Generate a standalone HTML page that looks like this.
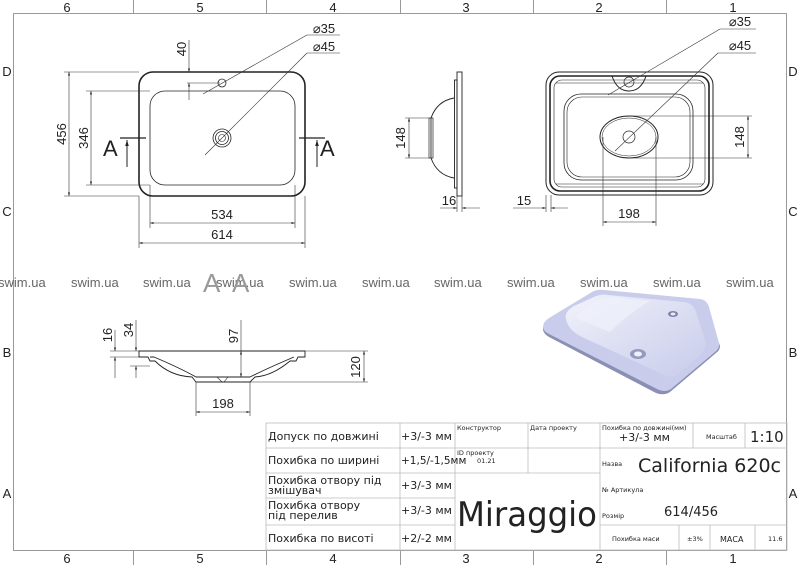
<!DOCTYPE html>
<html><head><meta charset="utf-8"><style>
html,body{margin:0;padding:0;background:#fff}
svg{display:block}
text{font-family:"Liberation Sans",sans-serif;fill:#222}
.t{font-family:"DejaVu Sans","Liberation Sans",sans-serif;fill:#222}
</style></head><body>
<svg width="800" height="565" viewBox="0 0 800 565" xmlns="http://www.w3.org/2000/svg">
<defs>
<marker id="a" viewBox="0 0 10 10" refX="10" refY="5" markerWidth="6" markerHeight="6" orient="auto-start-reverse"><path d="M0,2 L10,5 L0,8z" fill="#222"/></marker>
<linearGradient id="bw" x1="0" y1="0" x2="1" y2="1">
<stop offset="0" stop-color="#f2f3fb"/><stop offset="0.5" stop-color="#dcdef2"/><stop offset="1" stop-color="#c9cceb"/>
</linearGradient>
</defs>
<!-- frame -->
<rect x="13.5" y="13.5" width="773" height="537" fill="none" stroke="#999" stroke-width="1"/>
<g stroke="#999" stroke-width="1">
<line x1="133.5" y1="0" x2="133.5" y2="13"/><line x1="266.5" y1="0" x2="266.5" y2="13"/><line x1="400.5" y1="0" x2="400.5" y2="13"/><line x1="533.5" y1="0" x2="533.5" y2="13"/><line x1="666.5" y1="0" x2="666.5" y2="13"/>
<line x1="133.5" y1="550" x2="133.5" y2="565"/><line x1="266.5" y1="550" x2="266.5" y2="565"/><line x1="400.5" y1="550" x2="400.5" y2="565"/><line x1="533.5" y1="550" x2="533.5" y2="565"/><line x1="666.5" y1="550" x2="666.5" y2="565"/>
</g>
<g font-size="13" text-anchor="middle">
<text x="67" y="12">6</text><text x="200" y="12">5</text><text x="333" y="12">4</text><text x="466" y="12">3</text><text x="599" y="12">2</text><text x="733" y="12">1</text>
<text x="67" y="563">6</text><text x="200" y="563">5</text><text x="333" y="563">4</text><text x="466" y="563">3</text><text x="599" y="563">2</text><text x="733" y="563">1</text>
<text x="7" y="76">D</text><text x="7" y="216">C</text><text x="7" y="357">B</text><text x="7" y="498">A</text>
<text x="793" y="76">D</text><text x="793" y="216">C</text><text x="793" y="357">B</text><text x="793" y="498">A</text>
</g>

<!-- TOP VIEW -->
<g fill="none" stroke="#222">
<rect x="139" y="72" width="166" height="124" rx="14" stroke-width="1.6"/>
<rect x="150" y="91" width="145" height="94" rx="15" stroke-width="0.8"/>
<circle cx="222" cy="83" r="4" stroke-width="0.8"/>
<circle cx="222" cy="138" r="9" stroke-width="0.8"/>
<circle cx="222" cy="138" r="6.5" stroke-width="0.8"/>
<circle cx="222" cy="138" r="3.5" stroke-width="0.6"/>
</g>
<g stroke="#333" stroke-width="0.6" fill="none">
<line x1="64" y1="72" x2="139" y2="72"/><line x1="64" y1="196" x2="139" y2="196"/>
<line x1="69" y1="72" x2="69" y2="196" marker-start="url(#a)" marker-end="url(#a)"/>
<line x1="86" y1="91" x2="150" y2="91"/><line x1="86" y1="185" x2="150" y2="185"/>
<line x1="91" y1="91" x2="91" y2="185" marker-start="url(#a)" marker-end="url(#a)"/>
<line x1="150" y1="185" x2="150" y2="228"/><line x1="295" y1="185" x2="295" y2="228"/>
<line x1="150" y1="223" x2="295" y2="223" marker-start="url(#a)" marker-end="url(#a)"/>
<line x1="139" y1="196" x2="139" y2="248"/><line x1="305" y1="196" x2="305" y2="248"/>
<line x1="139" y1="243" x2="305" y2="243" marker-start="url(#a)" marker-end="url(#a)"/>
<line x1="189" y1="40" x2="189" y2="72" marker-end="url(#a)"/>
<line x1="189" y1="100" x2="189" y2="83" marker-end="url(#a)"/>
<line x1="187" y1="83" x2="220" y2="83"/>
<line x1="307" y1="35" x2="340" y2="35"/><line x1="307" y1="35" x2="203" y2="94"/>
<line x1="307" y1="53" x2="340" y2="53"/><line x1="307" y1="53" x2="205" y2="155"/>
</g>
<g stroke="#222" stroke-width="1">
<line x1="120" y1="138" x2="146" y2="138" stroke-width="1.3"/>
<line x1="127" y1="167" x2="127" y2="140" marker-end="url(#a)"/>
<line x1="299" y1="138" x2="325" y2="138" stroke-width="1.3"/>
<line x1="317" y1="167" x2="317" y2="140" marker-end="url(#a)"/>
</g>
<g font-size="13" text-anchor="middle">
<text transform="translate(66,134) rotate(-90)">456</text>
<text transform="translate(88,138) rotate(-90)">346</text>
<text transform="translate(186,49) rotate(-90)">40</text>
<text x="222" y="219">534</text><text x="222" y="239">614</text>
<text x="324" y="33">⌀35</text><text x="324" y="51">⌀45</text>
</g>
<text x="103" y="156" font-size="22">A</text>
<text x="320" y="156" font-size="22">A</text>

<!-- SIDE VIEW -->
<g fill="none" stroke="#222" stroke-width="0.9">
<rect x="457" y="72" width="5" height="124"/>
<rect x="454.5" y="80" width="2.5" height="108"/>
<path d="M454 98 Q437 101 431 118 L431 158 Q437 175 454 178"/>
<rect x="429" y="118" width="4" height="40" stroke-width="0.7"/>
</g>
<g stroke="#333" stroke-width="0.6" fill="none">
<line x1="405" y1="118" x2="431" y2="118"/><line x1="405" y1="158" x2="431" y2="158"/>
<line x1="409" y1="118" x2="409" y2="158" marker-start="url(#a)" marker-end="url(#a)"/>
<line x1="457" y1="196" x2="457" y2="212"/><line x1="462" y1="196" x2="462" y2="212"/>
<line x1="440" y1="208" x2="457" y2="208" marker-end="url(#a)"/><line x1="480" y1="208" x2="462" y2="208" marker-end="url(#a)"/>
</g>
<text transform="translate(405,138) rotate(-90)" font-size="13" text-anchor="middle">148</text>
<text x="449" y="205" font-size="13" text-anchor="middle">16</text>

<!-- FRONT RIGHT VIEW -->
<g fill="none" stroke="#222">
<rect x="546" y="72" width="167" height="123" rx="13" stroke-width="1"/>
<rect x="550" y="76" width="159" height="115" rx="10" stroke-width="1.6"/>
<rect x="554" y="80" width="151" height="107" rx="8" stroke-width="0.6"/>
<line x1="556" y1="83" x2="703" y2="83" stroke-width="0.6"/>
<line x1="556" y1="184" x2="703" y2="184" stroke-width="0.6"/>
<rect x="564" y="94" width="129" height="86" rx="17" stroke-width="0.8"/>
<rect x="567" y="97" width="123" height="80" rx="15" stroke-width="0.6"/>
<ellipse cx="629" cy="137" rx="29" ry="21" stroke-width="1"/>
<ellipse cx="629" cy="137" rx="27" ry="19" stroke-width="0.5"/>
<circle cx="629" cy="137" r="6" stroke-width="0.7"/>
<path d="M612 76 Q617 91 629 91 Q641 91 646 76" stroke-width="1"/>
<circle cx="629" cy="82" r="5" stroke-width="0.7"/>
</g>
<g stroke="#333" stroke-width="0.6" fill="none">
<line x1="629" y1="116" x2="752" y2="116"/><line x1="629" y1="158" x2="752" y2="158"/>
<line x1="748" y1="116" x2="748" y2="158" marker-start="url(#a)" marker-end="url(#a)"/>
<line x1="603" y1="137" x2="603" y2="226"/><line x1="656" y1="137" x2="656" y2="226"/>
<line x1="603" y1="222" x2="656" y2="222" marker-start="url(#a)" marker-end="url(#a)"/>
<line x1="546" y1="195" x2="546" y2="212"/><line x1="551" y1="195" x2="551" y2="212"/>
<line x1="513" y1="208" x2="546" y2="208" marker-end="url(#a)"/><line x1="568" y1="208" x2="551" y2="208" marker-end="url(#a)"/>
<line x1="720" y1="29" x2="756" y2="29"/><line x1="720" y1="29" x2="608" y2="95"/>
<line x1="718" y1="53" x2="756" y2="53"/><line x1="718" y1="53" x2="615" y2="151"/>
</g>
<g font-size="13" text-anchor="middle">
<text transform="translate(744,137) rotate(-90)">148</text>
<text x="629" y="218">198</text><text x="524" y="205">15</text>
<text x="740" y="26">⌀35</text><text x="740" y="50">⌀45</text>
</g>

<!-- watermark -->
<g font-size="13">
<text x="-2" y="287" style="fill:#666">swim.ua</text><text x="71" y="287" style="fill:#666">swim.ua</text><text x="143" y="287" style="fill:#666">swim.ua</text><text x="216" y="287" style="fill:#666">swim.ua</text><text x="289" y="287" style="fill:#666">swim.ua</text><text x="362" y="287" style="fill:#666">swim.ua</text><text x="434" y="287" style="fill:#666">swim.ua</text><text x="507" y="287" style="fill:#666">swim.ua</text><text x="580" y="287" style="fill:#666">swim.ua</text><text x="653" y="287" style="fill:#666">swim.ua</text><text x="726" y="287" style="fill:#666">swim.ua</text>
</g>
<text x="203" y="292" font-size="26" style="fill:#999">A</text><text x="232" y="292" font-size="26" style="fill:#999">A</text>

<!-- SECTION -->
<g fill="none" stroke="#222" stroke-width="0.9">
<path d="M139 351 L305 351 L305 357 L298 357 L296 361 L290 361 Q272 376 255 377 L250 382 L196 382 L192 377 Q170 376 155 361 L150 361 L148 357 L139 357 Z"/>
<path d="M150 357 L154 357 Q180 368 196 377 L250 377 Q268 368 294 357"/>
<path d="M217 377 L222 382 M228 377 L224 382" stroke-width="0.6"/>
</g>
<g stroke="#333" stroke-width="0.6" fill="none">
<line x1="110" y1="351" x2="139" y2="351"/><line x1="110" y1="357" x2="139" y2="357"/><line x1="130" y1="366" x2="150" y2="366"/>
<line x1="115" y1="330" x2="115" y2="351" marker-end="url(#a)"/><line x1="115" y1="378" x2="115" y2="357" marker-end="url(#a)"/>
<line x1="136" y1="320" x2="136" y2="351" marker-end="url(#a)"/><line x1="136" y1="378" x2="136" y2="366" marker-end="url(#a)"/>
<line x1="241" y1="320" x2="241" y2="351"/><line x1="241" y1="351" x2="241" y2="377" marker-start="url(#a)" marker-end="url(#a)"/>
<line x1="305" y1="351" x2="368" y2="351"/><line x1="250" y1="382" x2="368" y2="382"/>
<line x1="364" y1="351" x2="364" y2="382" marker-start="url(#a)" marker-end="url(#a)"/>
<line x1="196" y1="382" x2="196" y2="416"/><line x1="250" y1="382" x2="250" y2="416"/>
<line x1="196" y1="412" x2="250" y2="412" marker-start="url(#a)" marker-end="url(#a)"/>
</g>
<g font-size="13" text-anchor="middle">
<text transform="translate(112,335) rotate(-90)">16</text>
<text transform="translate(133,330) rotate(-90)">34</text>
<text transform="translate(238,336) rotate(-90)">97</text>
<text transform="translate(360,367) rotate(-90)">120</text>
<text x="223" y="408">198</text>
</g>

<!-- 3D render -->
<path d="M543 327 L543 330 Q544 334 549 337 L656 393 Q664 396 670 392 L716 353 Q720 350 720 346 L719 343 Z" fill="#8b8fb3"/>
<path d="M543 327 Q543 322 549 318 L592 292 Q597 289 604 290 L700 299 Q707 300 709 307 L719 343 Q720 348 715 352 L671 389 Q665 393 657 389 L549 334 Q543 331 543 327 Z" fill="#c9cceb"/>
<path d="M566 319 Q564 312 574 306 L596 296 Q601 294 608 295 L684 302 Q693 303 696 312 L705 340 Q707 348 700 355 L680 373 Q673 379 664 375 L582 337 Q568 330 566 319 Z" fill="url(#bw)"/>
<path d="M575 318 Q590 300 610 297 L650 301 Q630 312 610 332 Z" fill="#eef0fa" opacity="0.8"/>
<ellipse cx="673" cy="314" rx="5" ry="3" fill="#7c81aa"/>
<ellipse cx="673" cy="314" rx="2.5" ry="1.5" fill="#e9ebf7"/>
<ellipse cx="638" cy="354" rx="8" ry="5" fill="#959abf"/>
<ellipse cx="638" cy="354" rx="4" ry="2.5" fill="#eef0fb"/>

<!-- TABLE -->
<g stroke="#bbb" stroke-width="0.8" fill="none">
<rect x="266" y="423" width="521" height="127"/>
<line x1="266" y1="448" x2="455" y2="448"/><line x1="266" y1="473" x2="455" y2="473"/><line x1="266" y1="498" x2="455" y2="498"/><line x1="266" y1="525" x2="455" y2="525"/>
<line x1="455" y1="448" x2="600" y2="448"/><line x1="455" y1="473" x2="600" y2="473"/>
<line x1="600" y1="448" x2="787" y2="448"/><line x1="600" y1="525" x2="787" y2="525"/>
<line x1="400" y1="423" x2="400" y2="550"/><line x1="455" y1="423" x2="455" y2="550"/>
<line x1="528" y1="423" x2="528" y2="473"/><line x1="600" y1="423" x2="600" y2="550"/>
<line x1="693" y1="423" x2="693" y2="448"/><line x1="745" y1="423" x2="745" y2="448"/>
<line x1="679" y1="525" x2="679" y2="550"/><line x1="710" y1="525" x2="710" y2="550"/><line x1="755" y1="525" x2="755" y2="550"/>
</g>
<g font-size="11">
<text class="t" x="268" y="440">Допуск по довжині</text>
<text class="t" x="268" y="464">Похибка по ширині</text>
<text class="t" x="268" y="484">Похибка отвору під</text><text class="t" x="268" y="494">змішувач</text>
<text class="t" x="268" y="509">Похибка отвору</text><text class="t" x="268" y="519">під перелив</text>
<text class="t" x="268" y="542">Похибка по висоті</text>
<text class="t" x="401" y="440">+3/-3 мм</text>
<text class="t" x="401" y="464" font-size="10.5">+1,5/-1,5мм</text>
<text class="t" x="401" y="489">+3/-3 мм</text>
<text class="t" x="401" y="514">+3/-3 мм</text>
<text class="t" x="401" y="542">+2/-2 мм</text>
</g>
<g font-size="6.5">
<text class="t" x="457" y="430">Конструктор</text>
<text class="t" x="530" y="430">Дата проекту</text>
<text class="t" x="457" y="455">ID проекту</text><text class="t" x="477" y="463">01.21</text>
<text class="t" x="602" y="430">Похибка по довжині(мм)</text>
<text class="t" x="706" y="439">Масштаб</text>
<text class="t" x="602" y="466">Назва</text>
<text class="t" x="602" y="492">№ Артикула</text>
<text class="t" x="602" y="518">Розмір</text>
<text class="t" x="612" y="541">Похибка маси</text>
<text class="t" x="687" y="541">±3%</text>
<text class="t" x="768" y="541">11.6</text>
</g>
<text class="t" x="619" y="441" font-size="11">+3/-3 мм</text>
<text class="t" x="750" y="442" font-size="15">1:10</text>
<text class="t" x="638" y="472" font-size="19">California 620c</text>
<text class="t" x="664" y="516" font-size="13">614/456</text>
<text class="t" x="720" y="542" font-size="8">МАСА</text>
<text class="t" x="457" y="526" font-size="34" textLength="140" lengthAdjust="spacingAndGlyphs">Miraggio</text>
</svg>
</body></html>
